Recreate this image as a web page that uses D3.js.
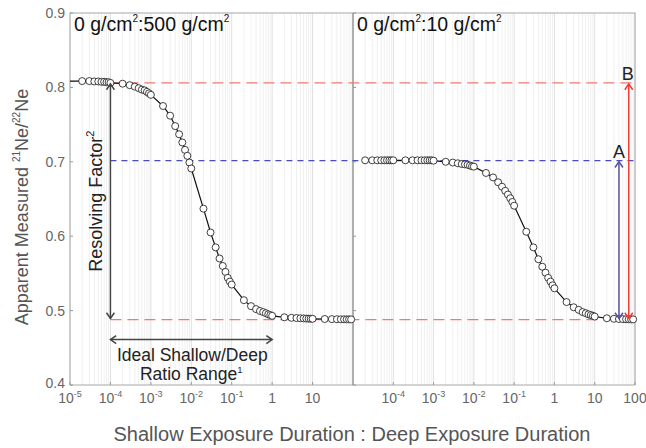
<!DOCTYPE html>
<html><head><meta charset="utf-8">
<script src="https://cdn.jsdelivr.net/npm/d3@7"></script>
<style>body{margin:0;background:#fff;} svg{display:block;font-family:"Liberation Sans",Arial,sans-serif;}</style>
</head><body><svg id="c" width="646" height="448"></svg>
<script>
// ---- data ----
const leftX = [1e-5,
  2e-5,3e-5,4e-5,5e-5,6e-5,7e-5,8e-5,9e-5,
  1e-4,2e-4,3e-4,4e-4,5e-4,6e-4,7e-4,8e-4,9e-4,
  1e-3,2e-3,3e-3,4e-3,5e-3,6e-3,7e-3,8e-3,9e-3,
  1e-2,2e-2,3e-2,4e-2,5e-2,6e-2,7e-2,8e-2,9e-2,
  0.1,0.2,0.3,0.4,0.5,0.6,0.7,0.8,0.9,
  1,2,3,4,5,6,7,8,9,
  10,20,30,40,50,60,70,80,90];
const leftY = [0.8085,
  0.8085,0.8085,0.808,0.808,0.8075,0.8075,0.807,0.807,
  0.806,0.805,0.803,0.801,0.799,0.797,0.796,0.794,0.792,
  0.790,0.775,0.762,0.748,0.737,0.726,0.716,0.708,0.699,
  0.691,0.637,0.605,0.585,0.570,0.560,0.552,0.544,0.539,
  0.535,0.514,0.506,0.502,0.4995,0.498,0.4965,0.495,0.494,
  0.493,0.491,0.4903,0.490,0.4897,0.4895,0.4893,0.4892,0.4891,
  0.489,0.4887,0.4885,0.4884,0.4883,0.4883,0.4882,0.4882,0.4882];
const rightX = [
  2e-5,3e-5,4e-5,5e-5,6e-5,7e-5,8e-5,9e-5,
  1e-4,2e-4,3e-4,4e-4,5e-4,6e-4,7e-4,8e-4,9e-4,
  1e-3,2e-3,3e-3,4e-3,5e-3,6e-3,7e-3,8e-3,9e-3,
  1e-2,2e-2,3e-2,4e-2,5e-2,6e-2,7e-2,8e-2,9e-2,
  0.1,0.2,0.3,0.4,0.5,0.6,0.7,0.8,0.9,
  1,2,3,4,5,6,7,8,9,
  10,20,30,40,50,60,70,80,90];
const rightY = [
  0.702,0.702,0.702,0.702,0.702,0.702,0.702,0.702,
  0.702,0.702,0.702,0.702,0.702,0.702,0.702,0.702,0.702,
  0.7015,0.700,0.699,0.698,0.697,0.6965,0.696,0.695,0.694,
  0.6935,0.685,0.679,0.6725,0.6665,0.661,0.656,0.651,0.646,
  0.641,0.606,0.585,0.569,0.559,0.551,0.544,0.539,0.534,
  0.530,0.5115,0.5045,0.501,0.498,0.4965,0.495,0.494,0.493,
  0.492,0.4897,0.489,0.4887,0.4885,0.4884,0.4883,0.4882,0.4882];
const yTicks = [0.4,0.5,0.6,0.7,0.8,0.9];
const leftTicks = [1e-5,1e-4,1e-3,1e-2,1e-1,1,10];
const rightTicks = [1e-4,1e-3,1e-2,1e-1,1,10,100];
const refTop = 0.806, refMid = 0.7015, refBottom = 0.488;
const rangeArrowY = 0.461;
const rangeFrom = 1e-4, rangeTo = 1;
const arrowAx = 40, arrowBx = 70;
const titleLeft = ["0 g/cm","2",":500 g/cm","2"];
const titleRight = ["0 g/cm","2",":10 g/cm","2"];

// ---- layout ----
const L=70, MID=353, R=635, T=13, B=385;
const svg=d3.select('#c');
const y=d3.scaleLinear().domain([0.4,0.9]).range([B,T]);
const xL=d3.scaleLog().domain([1e-5,100]).range([L,MID]);
const xR=d3.scaleLog().domain([1e-5,100]).range([MID,R]);

// grid
[xL,xR].forEach(sc=>{
  const tk=sc.ticks();
  svg.append('g').selectAll('line').data(tk).join('line')
    .attr('x1',d=>sc(d)).attr('x2',d=>sc(d)).attr('y1',T).attr('y2',B)
    .attr('stroke',d=>Math.abs(Math.log10(d)-Math.round(Math.log10(d)))<1e-9?'#e0e0e0':'#f0f0f0')
    .attr('stroke-width',1);
});

// frame
svg.append('rect').attr('x',L).attr('y',T).attr('width',R-L).attr('height',B-T)
  .attr('fill','none').attr('stroke','#a8a8a8');
svg.append('line').attr('x1',MID).attr('x2',MID).attr('y1',T).attr('y2',B).attr('stroke','#777');

// inward ticks
[L,MID].forEach(x0=>{
  svg.append('g').selectAll('line').data(yTicks).join('line')
    .attr('x1',x0).attr('x2',x0+3).attr('y1',d=>y(d)).attr('y2',d=>y(d)).attr('stroke','#999');
});
[[xL,leftTicks],[xR,rightTicks]].forEach(([sc,tk])=>{
  svg.append('g').selectAll('line').data(tk).join('line')
    .attr('x1',d=>sc(d)).attr('x2',d=>sc(d)).attr('y1',B).attr('y2',B-3).attr('stroke','#999');
});

// y labels
svg.append('g').selectAll('text').data(yTicks).join('text')
  .attr('x',L-5).attr('y',d=>y(d)+(d===0.4?3:5)).attr('text-anchor','end')
  .attr('font-size',14).attr('fill','#666').text(d3.format('.1f'));

// x labels
function xLabel(g,sc,v){
  const e=Math.round(Math.log10(v));
  const t=g.append('text').attr('x',sc(v)).attr('y',403).attr('text-anchor','middle')
    .attr('font-size',14).attr('fill','#666');
  if(e>=0){ t.text(String(Math.round(v))); }
  else { t.append('tspan').text('10'); t.append('tspan').attr('font-size',9).attr('dy',-6).text('-'+(-e)); }
}
const xg=svg.append('g');
leftTicks.forEach(v=>xLabel(xg,xL,v));
rightTicks.forEach(v=>xLabel(xg,xR,v));

// reference dashed lines
function hdash(v,color,dash){
  svg.append('line').attr('x1',xL(1e-4)).attr('x2',R).attr('y1',y(v)).attr('y2',y(v))
    .attr('stroke',color).attr('stroke-width',1.3).attr('stroke-dasharray',dash);
}
hdash(refTop,'#ee7b72','11,6');
hdash(refMid,'#4a4ac4','6,5');
hdash(refBottom,'#ee7b72','11,6');

// curves
function curve(sc,xs,ys,skipFirst){
  const pts=xs.map((x,i)=>[sc(x),y(ys[i])]);
  svg.append('path').attr('d',d3.line()(pts)).attr('fill','none').attr('stroke','#111').attr('stroke-width',1.2);
  svg.append('g').selectAll('circle').data(skipFirst?pts.slice(1):pts).join('circle')
    .attr('cx',d=>d[0]).attr('cy',d=>d[1]).attr('r',3.5)
    .attr('fill','#fff').attr('stroke','#111').attr('stroke-width',0.8);
}
curve(xL,leftX,leftY,true);
curve(xR,rightX,rightY,false);

// arrows
function arrow(x1,y1,x2,y2,color,w){
  const g=svg.append('g').attr('stroke',color).attr('stroke-width',w||1.5).attr('fill','none');
  g.append('line').attr('x1',x1).attr('y1',y1).attr('x2',x2).attr('y2',y2);
  const head=(xa,ya,xb,yb)=>{
    const a=Math.atan2(ya-yb,xa-xb), len=7, sp=0.6;
    const p1=[xa-len*Math.cos(a-sp),ya-len*Math.sin(a-sp)];
    const p2=[xa-len*Math.cos(a+sp),ya-len*Math.sin(a+sp)];
    g.append('path').attr('d',`M${p1[0]},${p1[1]}L${xa},${ya}L${p2[0]},${p2[1]}`);
  };
  head(x1,y1,x2,y2); head(x2,y2,x1,y1);
}
arrow(xL(1e-4),y(refTop)+1,xL(1e-4),y(refBottom)-1,'#444',1.5);
arrow(xL(rangeFrom),y(rangeArrowY),xL(rangeTo),y(rangeArrowY),'#444',1.5);
arrow(xR(arrowAx),y(refMid)+1,xR(arrowAx),y(refBottom)-1,'#55529f',1.5);
arrow(xR(arrowBx),y(refTop)+1,xR(arrowBx),y(refBottom)-1,'#ef3b36',1.5);

// annotation texts
svg.append('text').attr('x',xR(arrowAx)).attr('y',y(refMid)-3).attr('text-anchor','middle')
  .attr('font-size',18).attr('fill','#222').text('A');
svg.append('text').attr('x',xR(arrowBx)-1).attr('y',y(refTop)-3).attr('text-anchor','middle')
  .attr('font-size',18).attr('fill','#222').text('B');
const rf=svg.append('text').attr('transform',`translate(${xL(1e-4)-8},${(y(refTop)+y(refBottom))/2}) rotate(-90)`)
  .attr('text-anchor','middle').attr('font-size',18).attr('fill','#222');
rf.append('tspan').text('Resolving Factor');
rf.append('tspan').attr('font-size',11).attr('dy',-8).text('2');
const ir=svg.append('g').attr('font-size',17.5).attr('fill','#222').attr('text-anchor','middle');
ir.append('text').attr('x',xL(1e-2)+1).attr('y',360.5).text('Ideal Shallow/Deep');
const rr=ir.append('text').attr('x',xL(1e-2)).attr('y',380);
rr.append('tspan').text('Ratio Range');
rr.append('tspan').attr('font-size',9.5).attr('dy',-7).text('1');

// panel titles
function title(x,parts){
  const t=svg.append('text').attr('x',x).attr('y',31).attr('font-size',19.5).attr('fill','#111');
  t.append('tspan').text(parts[0]);
  t.append('tspan').attr('font-size',10).attr('dy',-9).text(parts[1]);
  t.append('tspan').attr('dy',9).text(parts[2]);
  t.append('tspan').attr('font-size',10).attr('dy',-9).text(parts[3]);
}
title(74,titleLeft);
title(357,titleRight);

// axis titles
svg.append('text').attr('x',352).attr('y',441).attr('text-anchor','middle')
  .attr('font-size',20).attr('fill','#555').text('Shallow Exposure Duration : Deep Exposure Duration');
const yt=svg.append('text').attr('transform',`translate(28,207) rotate(-90)`)
  .attr('text-anchor','middle').attr('font-size',18).attr('fill','#555');
yt.append('tspan').text('Apparent Measured ');
yt.append('tspan').attr('font-size',10).attr('dy',-8).text('21');
yt.append('tspan').attr('dy',8).text('Ne/');
yt.append('tspan').attr('font-size',10).attr('dy',-8).text('22');
yt.append('tspan').attr('dy',8).text('Ne');
</script></body></html>
